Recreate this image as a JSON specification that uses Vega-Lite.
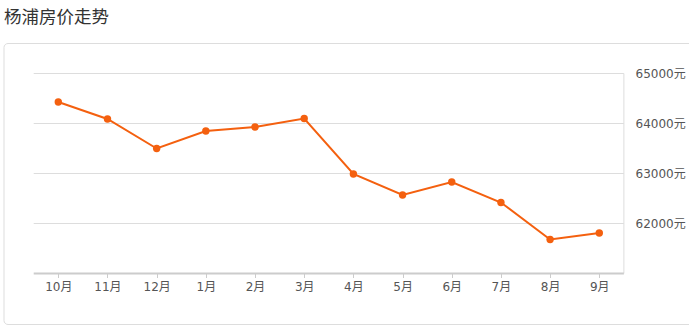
{
  "$schema": "https://vega.github.io/schema/vega-lite/v6.json",
  "width": 689,
  "height": 329,
  "padding": 0,
  "autosize": {"type": "none"},
  "background": "white",
  "config": {"view": {"stroke": null}, "font": "DejaVu Sans, Noto Sans CJK SC"},
  "title": {"text": "杨浦房价走势", "anchor": "start", "frame": "group", "offset": -26, "dx": 4, "fontSize": 17.5, "fontWeight": "normal", "color": "#333333", "font": "Noto Sans CJK SC"},
  "layer": [
    {
      "data": {"values": [{}]},
      "mark": {"type": "rect", "fill": null, "stroke": "#dddddd", "strokeWidth": 1, "cornerRadius": 4},
      "encoding": {
        "x": {"datum": -1.104, "type": "quantitative",
          "scale": {"domain": [-1.1854, 12.824], "nice": false, "zero": false},
          "axis": {
            "orient": "bottom", "offset": -55.5, "values": [0,1,2,3,4,5,6,7,8,9,10,11], "zindex": 1,
            "labelExpr": "['10月','11月','12月','1月','2月','3月','4月','5月','6月','7月','8月','9月'][datum.value]",
            "domain": false, "grid": false, "ticks": true, "tickSize": 4, "tickColor": "#cccccc",
            "labelFontSize": 12, "labelColor": "#555555", "labelPadding": 4, "title": null, "labelFlush": false
          }},
        "x2": {"datum": 13.5},
        "y": {"datum": 65600, "type": "quantitative",
          "scale": {"domain": [59890, 66470], "nice": false, "zero": false},
          "axis": {
            "orient": "right", "offset": -56, "values": [62000, 63000, 64000, 65000], "zindex": 1,
            "labelExpr": "datum.value + '元'", "domain": false, "grid": false, "ticks": false,
            "labelFontSize": 12, "labelColor": "#555555", "labelPadding": 2, "title": null, "labelFlush": false
          }},
        "y2": {"datum": 59980}
      }
    },
    {
      "data": {"values": [{"v": 62000}, {"v": 63000}, {"v": 64000}, {"v": 65000}]},
      "mark": {"type": "rule", "stroke": "#dddddd", "strokeWidth": 1},
      "encoding": {
        "y": {"field": "v", "type": "quantitative"},
        "x": {"datum": -0.5},
        "x2": {"datum": 11.5}
      }
    },
    {
      "data": {"values": [{}]},
      "mark": {"type": "rule", "stroke": "#dddddd", "strokeWidth": 1},
      "encoding": {
        "x": {"datum": 11.5},
        "y": {"datum": 61000},
        "y2": {"datum": 65000}
      }
    },
    {
      "data": {"values": [{}]},
      "mark": {"type": "rule", "stroke": "#cccccc", "strokeWidth": 2},
      "encoding": {
        "y": {"datum": 61000},
        "x": {"datum": -0.5},
        "x2": {"datum": 11.5}
      }
    },
    {
      "data": {"values": [
        {"idx": 0, "month": "10月", "price": 64430},
        {"idx": 1, "month": "11月", "price": 64090},
        {"idx": 2, "month": "12月", "price": 63500},
        {"idx": 3, "month": "1月", "price": 63850},
        {"idx": 4, "month": "2月", "price": 63930},
        {"idx": 5, "month": "3月", "price": 64100},
        {"idx": 6, "month": "4月", "price": 62990},
        {"idx": 7, "month": "5月", "price": 62570},
        {"idx": 8, "month": "6月", "price": 62830},
        {"idx": 9, "month": "7月", "price": 62420},
        {"idx": 10, "month": "8月", "price": 61680},
        {"idx": 11, "month": "9月", "price": 61810}
      ]},
      "encoding": {
        "x": {"field": "idx", "type": "quantitative"},
        "y": {"field": "price", "type": "quantitative"}
      },
      "layer": [
        {"mark": {"type": "line", "color": "#f4600f", "strokeWidth": 2}},
        {"mark": {"type": "point", "filled": true, "opacity": 1, "color": "#f4600f", "size": 55}}
      ]
    }
  ]
}
